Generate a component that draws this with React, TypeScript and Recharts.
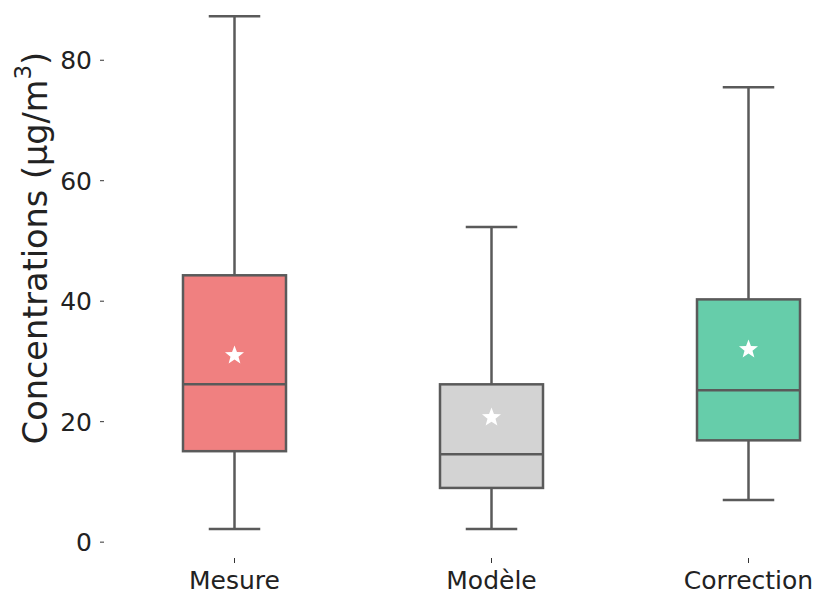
import React from 'react';
import { ComposedChart, Bar, Scatter, XAxis, YAxis } from 'recharts';

const categories = ['Mesure', 'Modèle', 'Correction'];
const whiskerLow = [2.2, 2.2, 7.0];
const q1 = [15.1, 9.0, 16.9];
const median = [26.2, 14.6, 25.2];
const q3 = [44.3, 26.2, 40.3];
const whiskerHigh = [87.3, 52.3, 75.5];
const means = [31.0, 20.7, 32.0];
const boxColors = ['#F08080', '#D3D3D3', '#66CDAA'];
const yTicks = [0, 20, 40, 60, 80];

const data = categories.map((name, i) => ({
  name,
  range: [whiskerLow[i], whiskerHigh[i]],
  lo: whiskerLow[i],
  q1: q1[i],
  med: median[i],
  q3: q3[i],
  hi: whiskerHigh[i],
  mean: means[i],
  color: boxColors[i],
}));

const LINE = '#5a5a5a';
const FONT = 'DejaVu Sans, sans-serif';

// whisker + box + median, positions derived from the bar's own scaled range
const BoxShape = (props: any) => {
  const { x, y, width, height, payload } = props;
  const ppu = height / (payload.hi - payload.lo);
  const py = (v: number) => y + (payload.hi - v) * ppu;
  const cx = x + width / 2;
  const capHalf = width / 4;
  return (
    <g>
      <line x1={cx} x2={cx} y1={py(payload.hi)} y2={py(payload.q3)} stroke={LINE} strokeWidth={2.5} />
      <line x1={cx} x2={cx} y1={py(payload.q1)} y2={py(payload.lo)} stroke={LINE} strokeWidth={2.5} />
      <line x1={cx - capHalf} x2={cx + capHalf} y1={py(payload.hi)} y2={py(payload.hi)} stroke={LINE} strokeWidth={2.5} />
      <line x1={cx - capHalf} x2={cx + capHalf} y1={py(payload.lo)} y2={py(payload.lo)} stroke={LINE} strokeWidth={2.5} />
      <rect
        x={x}
        y={py(payload.q3)}
        width={width}
        height={py(payload.q1) - py(payload.q3)}
        fill={payload.color}
        stroke={LINE}
        strokeWidth={2.5}
      />
      <line x1={x} x2={x + width} y1={py(payload.med)} y2={py(payload.med)} stroke={LINE} strokeWidth={2.5} />
    </g>
  );
};

const StarShape = (props: any) => {
  const { cx, cy } = props;
  const pts: string[] = [];
  for (let k = 0; k < 10; k++) {
    const r = k % 2 === 0 ? 10 : 4.2;
    const a = -Math.PI / 2 + (k * Math.PI) / 5;
    pts.push(`${cx + r * Math.cos(a)},${cy + r * Math.sin(a)}`);
  }
  return <polygon points={pts.join(' ')} fill="#ffffff" />;
};

const XTick = (props: any) => {
  const { x, y, payload } = props;
  return (
    <g>
      <line x1={x} x2={x} y1={y + 2} y2={y + 7} stroke="#333" strokeWidth={1} />
      <text x={x} y={y + 33} textAnchor="middle" fontSize={25} fontFamily={FONT} fill="#222">
        {payload.value}
      </text>
    </g>
  );
};

const YTick = (props: any) => {
  const { x, y, payload } = props;
  return (
    <g>
      <line x1={x + 8} x2={x + 12} y1={y} y2={y} stroke="#333" strokeWidth={1} />
      <text x={x} y={y + 9} textAnchor="end" fontSize={25} fontFamily={FONT} fill="#222">
        {payload.value}
      </text>
    </g>
  );
};

export default function App() {
  return (
    <div style={{ position: 'absolute', left: 0, top: 0, width: 820, height: 599, overflow: 'hidden', background: '#fff' }}>
      <ComposedChart width={880} height={599} data={data} margin={{ top: 0, right: 3, bottom: 0, left: 0 }}>
        <XAxis
          dataKey="name"
          axisLine={false}
          tickLine={false}
          tickSize={0}
          tickMargin={0}
          height={43}
          tick={<XTick />}
          interval={0}
        />
        <YAxis
          type="number"
          domain={[-2.3, 90]}
          ticks={yTicks}
          allowDataOverflow
          axisLine={false}
          tickLine={false}
          tickSize={0}
          tickMargin={14}
          width={106}
          tick={<YTick />}
          label={(
            <text
              x={29}
              y={272}
              transform="rotate(-90, 29, 272)"
              textAnchor="middle"
              dominantBaseline="central"
              fontSize={33.5}
              fontFamily={FONT}
              fill="#222"
            >
              Concentrations (µg/m<tspan dy={-12} fontSize={23}>3</tspan><tspan dy={12}>)</tspan>
            </text>
          ) as any}
        />
        <Bar dataKey="range" barSize={103} shape={<BoxShape />} isAnimationActive={false} />
        <Scatter dataKey="mean" shape={<StarShape />} isAnimationActive={false} />
      </ComposedChart>
    </div>
  );
}
